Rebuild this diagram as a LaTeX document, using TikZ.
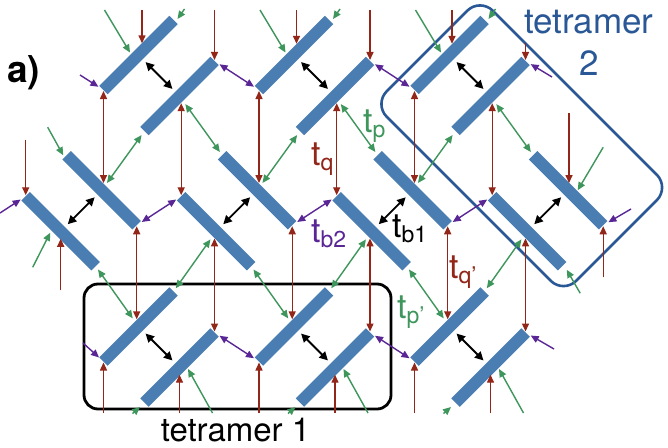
\documentclass[tikz,border=0pt]{standalone}
\usepackage{fontspec}
\setmainfont{TeX Gyre Heros}
\usetikzlibrary{arrows.meta,calc}
\definecolor{barblue}{RGB}{74,126,178}
\definecolor{tred}{RGB}{146,38,24}
\definecolor{tgreen}{RGB}{62,150,92}
\definecolor{tpurple}{RGB}{90,38,150}
\definecolor{boxblue}{RGB}{42,88,150}
\newcommand\lsub[1]{\raisebox{-5pt}{\fontsize{23}{23}\selectfont #1}}
\begin{document}
\begin{tikzpicture}[x=1pt,y=-1pt,
  >={Triangle[length=8pt,width=7pt]},
  bar/.style={fill=barblue,draw=none,minimum width=99pt,minimum height=12pt,inner sep=0pt,outer sep=0pt},
  sl/.style={bar,rotate=45},
  bs/.style={bar,rotate=-45},
  redln/.style={draw=tred,line width=1.4pt},
  grnln/.style={draw=tgreen,line width=1.4pt},
  purln/.style={draw=tpurple,line width=1.4pt},
  blkln/.style={draw=black,line width=1.8pt,>={Triangle[length=8.5pt,width=8.5pt]}},
  lbl/.style={font=\fontsize{34}{36}\selectfont,inner sep=0pt,anchor=base west}]
\fill[white] (0,0) rectangle (668,447);
\useasboundingbox (0,0) rectangle (668,447);

% tetramer boxes
\node[draw=black,line width=2.8pt,rounded corners=14pt,minimum width=307pt,minimum height=125pt,inner sep=0pt] (tet1) at (237.5,346.5) {};
\node[draw=boxblue,line width=2.6pt,rounded corners=18pt,minimum width=268pt,minimum height=150pt,inner sep=0pt,rotate=-45] (tet2) at (521.75,145.75) {};

% bars
\node[sl] (A1) at (138.5,55) {};
\node[sl] (A2) at (179.5,96) {};
\node[sl] (A3) at (294,55) {};
\node[sl] (A4) at (335,96) {};
\node[sl] (A5) at (449.5,55) {};
\node[sl] (A6) at (490.5,96) {};
\node[bs] (B1) at (101.7,190.25) {};
\node[bs] (B2) at (60.7,231.25) {};
\node[bs] (B3) at (257.2,190.25) {};
\node[bs] (B4) at (216.2,231.25) {};
\node[bs] (B5) at (412.7,190.25) {};
\node[bs] (B6) at (371.7,231.25) {};
\node[bs] (B7) at (568.2,190.25) {};
\node[bs] (B8) at (527.2,231.25) {};
\node[sl] (C1) at (138.5,326.5) {};
\node[sl] (C2) at (179.5,367.5) {};
\node[sl] (C3) at (294,326.5) {};
\node[sl] (C4) at (335,367.5) {};
\node[sl] (C5) at (449.5,326.5) {};
\node[sl] (C6) at (490.5,367.5) {};

\coordinate (top) at (0,10);
\coordinate (bot) at (0,413);

% black t_b1
\foreach \ua/\ub in {A1/A2,A3/A4,A5/A6,B1/B2,B3/B4,B5/B6,B7/B8,C1/C2,C3/C4,C5/C6}
  \draw[blkln,<->,shorten <=10pt,shorten >=10pt] (\ua.center) -- (\ub.center);

% purple t_b2
\foreach \ua/\ub in {A2/A3,A4/A5,C2/C3,C4/C5,B1/B4,B3/B6,B5/B8}
  \draw[purln,<->,shorten <=6pt,shorten >=6pt] (\ua.east) -- (\ub.west);
\coordinate (p1) at (80,75);
\coordinate (p2) at (552,77);
\coordinate (p3) at (83,343);
\coordinate (p4) at (554,349);
\coordinate (p5) at (0,213);
\coordinate (p6) at (631,209);
\draw[purln,->,shorten >=6pt] (p1) -- (A1.west);
\draw[purln,->,shorten >=6pt] (p2) -- (A6.east);
\draw[purln,->,shorten >=6pt] (p3) -- (C1.west);
\draw[purln,->,shorten >=6pt] (p4) -- (C6.east);
\draw[purln,->,shorten >=6pt] (p5) -- (B2.west);
\draw[purln,->,shorten >=6pt] (p6) -- (B7.east);

% red t_q
\foreach \ua/\ub in {A1/B1,A3/B3,A5/B5}
  \draw[redln,<->,shorten <=1pt,shorten >=7.2pt] (\ua.west) -- (\ua.west |- \ub.center);
\foreach \ua/\ub in {A2/B4,A4/B6,A6/B8}
  \draw[redln,<->,shorten <=7.2pt,shorten >=1pt] (\ub.west |- \ua.center) -- (\ub.west);
\foreach \ua/\ub in {B1/C1,B3/C3,B5/C5}
  \draw[redln,<->,shorten <=1pt,shorten >=7.2pt] (\ua.east) -- (\ua.east |- \ub.center);
\foreach \ua/\ub in {B4/C2,B6/C4,B8/C6}
  \draw[redln,<->,shorten <=7.2pt,shorten >=1pt] (\ub.east |- \ua.center) -- (\ub.east);
% red dangling
\coordinate (r1) at (142,10);
\coordinate (r3) at (296.5,10);
\coordinate (r5) at (452,10);
\draw[redln,->] (r1) -- ($(r1 |- A1.center)+(0,-11.7)$);
\draw[redln,->] (r3) -- ($(r3 |- A3.center)+(0,-11.2)$);
\draw[redln,->] (r5) -- ($(r5 |- A5.center)+(0,-11.2)$);
\coordinate (r2) at (A2.east |- top);
\coordinate (r4) at (A4.east |- top);
\coordinate (r6) at ($(A6.east)+(0,-18)$);
\draw[redln,->,shorten >=1pt] (r2) -- (A2.east);
\draw[redln,->,shorten >=1pt] (r4) -- (A4.east);
\draw[redln,->,shorten >=1pt] (r6) -- (A6.east);
\coordinate (r7) at (569,113);
\coordinate (r8) at ($(B2.west)+(0,-56)$);
\coordinate (r9) at ($(B7.east)+(0,52)$);
\coordinate (r10) at ($(B2.center)+(0,59)$);
\draw[redln,->,shorten >=7.2pt] (r7) -- (r7 |- B7.center);
\draw[redln,->,shorten >=1pt] (r8) -- (B2.west);
\draw[redln,->,shorten >=1pt] (r9) -- (B7.east);
\draw[redln,->,shorten >=7.5pt] (r10) -- (B2.center);
\foreach \ua in {C1,C3,C5}
  \draw[redln,->,shorten >=1pt] (\ua.west |- bot) -- (\ua.west);
\foreach \ua in {C2,C4,C6}
  \draw[redln,->,shorten >=7.2pt] (\ua.center |- bot) -- (\ua.center);

% green t_p
\foreach \ua/\ub in {A2/B1,A4/B3,A6/B5}
  \draw[grnln,<->,shorten <=5pt,shorten >=9pt] (\ua.west) -- (\ub.center);
\foreach \ua/\ub in {A2/B3,A4/B5,A6/B7}
  \draw[grnln,<->,shorten <=10pt,shorten >=4pt] (\ua.center) -- (\ub.west);
\foreach \ua/\ub in {B2/C1,B4/C3,B6/C5}
  \draw[grnln,<->,shorten <=4pt,shorten >=10pt] (\ua.east) -- (\ub.center);
\foreach \ua/\ub in {B4/C1,B6/C3,B8/C5}
  \draw[grnln,<->,shorten <=10pt,shorten >=4pt] (\ua.center) -- (\ub.east);
% green dangling
\foreach \ua in {A1,A3,A5}{
  \draw[grnln,->] ($(\ua.center)+(-34,-45)$) -- ($(\ua.center)+(-8.5,-2.5)$);
  \draw[grnln,->] ($(\ua.east)+(11,-11)$) -- ($(\ua.east)+(4,-1)$);
}
\draw[grnln,->] ($(B7.center)+(35,-43)$) -- ($(B7.center)+(9.5,0)$);
\draw[grnln,->] ($(B1.west)+(-19,-28)$) -- ($(B1.west)+(-3.5,0)$);
\draw[grnln,->] ($(B8.east)+(18,27)$) -- ($(B8.east)+(4.5,3.5)$);
\draw[grnln,->] ($(B2.center)+(-28,36)$) -- ($(B2.center)+(-10.5,1.5)$);
\foreach \ua in {C2,C4,C6}{
  \draw[grnln,->] ($(\ua.west)+(-12,11)$) -- ($(\ua.west)+(-4.5,4.5)$);
  \draw[grnln,->] ($(\ua.center)+(33,45.5)$) -- ($(\ua.center)+(8.5,1.5)$);
}

% labels
\node[lbl,text=tred] (lq) at (311,165) {t\lsub{q}};
\node[lbl,text=tgreen] (lp) at (363,132) {t\lsub{p}};
\node[lbl,text=tpurple] (lb2) at (311,242) {t\lsub{b2}};
\node[lbl,text=black] (lb1) at (392,237) {t\lsub{b1}};
\node[lbl,text=tred] (lq2) at (449,278) {t\lsub{q’}};
\node[lbl,text=tgreen] (lp2) at (397,318) {t\lsub{p’}};
\node[font=\bfseries\fontsize{37}{40}\selectfont,anchor=base west,inner sep=0pt] (la) at (7,82) {a)};
\node[font=\fontsize{33}{38}\selectfont,anchor=base,inner sep=0pt] (t1l) at (235.5,441) {tetramer 1};
\node[font=\fontsize{35}{42}\selectfont,anchor=base,inner sep=0pt,text=boxblue] (t2l) at (589,33) {tetramer};
\node[font=\fontsize{35}{42}\selectfont,anchor=base,inner sep=0pt,text=boxblue] (t2n) at (589,75) {2};
\end{tikzpicture}
\end{document}
